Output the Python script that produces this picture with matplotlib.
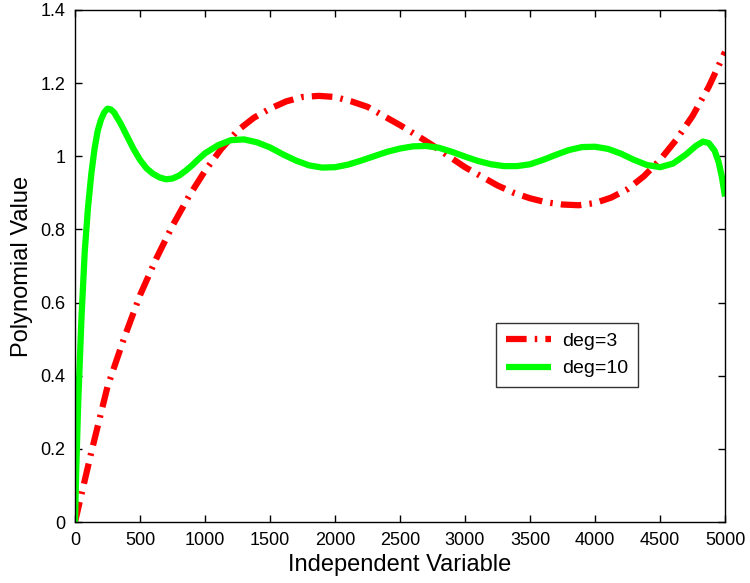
import matplotlib
matplotlib.use("Agg")
import matplotlib.pyplot as plt

plt.rcParams['font.family'] = ['Liberation Sans', 'DejaVu Sans']

# deg=3 fit
x3 = [0, 125, 250, 375, 500, 625, 750, 875, 1000, 1125, 1250, 1375, 1500, 1625,
      1750, 1875, 2000, 2125, 2250, 2375, 2500, 2625, 2750, 2875, 3000, 3125,
      3250, 3375, 3500, 3625, 3750, 3875, 4000, 4125, 4250, 4375, 4500, 4625,
      4750, 4875, 5000]
y3 = [0.00, 0.19, 0.37, 0.50, 0.62, 0.72, 0.81, 0.89, 0.96, 1.02, 1.07, 1.105,
      1.13, 1.15, 1.162, 1.165, 1.162, 1.15, 1.135, 1.11, 1.085, 1.058, 1.03,
      1.0, 0.97, 0.945, 0.92, 0.90, 0.885, 0.874, 0.868, 0.866, 0.872, 0.887,
      0.91, 0.945, 0.99, 1.045, 1.11, 1.19, 1.285]

# deg=10 fit
x10 = [0, 10, 25, 50, 75, 100, 125, 150, 175, 200, 225, 250, 275, 300, 350, 400,
       450, 500, 550, 600, 650, 700, 750, 800, 850, 900, 950, 1000, 1100, 1200,
       1300, 1400, 1500, 1600, 1700, 1800, 1900, 2000, 2100, 2200, 2300, 2400,
       2500, 2600, 2700, 2800, 2900, 3000, 3100, 3200, 3300, 3400, 3500, 3600,
       3700, 3800, 3900, 4000, 4100, 4200, 4300, 4400, 4500, 4600, 4700, 4775,
       4830, 4875, 4920, 4950, 4975, 5000]
y10 = [0.00, 0.15, 0.33, 0.56, 0.74, 0.86, 0.95, 1.02, 1.07, 1.10, 1.12, 1.13,
       1.128, 1.12, 1.09, 1.055, 1.02, 0.99, 0.967, 0.952, 0.942, 0.937, 0.939,
       0.947, 0.96, 0.975, 0.992, 1.008, 1.03, 1.044, 1.046, 1.038, 1.024, 1.005,
       0.988, 0.975, 0.969, 0.97, 0.977, 0.988, 1.0, 1.012, 1.021, 1.027, 1.028,
       1.023, 1.012, 0.999, 0.987, 0.978, 0.973, 0.973, 0.978, 0.99, 1.004,
       1.017, 1.025, 1.026, 1.02, 1.007, 0.99, 0.976, 0.97, 0.98, 1.005, 1.028,
       1.04, 1.036, 1.015, 0.985, 0.945, 0.89]

xticks = [0, 500, 1000, 1500, 2000, 2500, 3000, 3500, 4000, 4500, 5000]
yticks = [0, 0.2, 0.4, 0.6, 0.8, 1, 1.2, 1.4]
ytick_labels = ['0', '0.2', '0.4', '0.6', '0.8', '1', '1.2', '1.4']

fig = plt.figure(figsize=(7.5, 5.83), dpi=100)
ax = fig.add_axes([0.1, 0.1046, 0.8667, 0.8784])

ax.plot(x3, y3, color='red', linewidth=4.5, dashes=(3.3, 1.3, 0.4, 1.3),
        dash_capstyle='butt', dash_joinstyle='round', label='deg=3')
ax.plot(x10, y10, color='#00ff00', linewidth=4.5, solid_capstyle='butt',
        solid_joinstyle='round', label='deg=10')

ax.set_xlim(0, 5000)
ax.set_ylim(0, 1.4)
ax.set_xticks(xticks)
ax.set_xticklabels([str(v) for v in xticks])
ax.set_yticks(yticks)
ax.set_yticklabels(ytick_labels)
ax.tick_params(direction='in', top=True, right=True, length=5, width=1,
               labelsize=13, colors='black')
ax.tick_params(axis='x', pad=7)
ax.tick_params(axis='y', pad=7)
for s in ax.spines.values():
    s.set_linewidth(1)
ax.set_xlabel('Independent Variable', fontsize=17, labelpad=4)
ax.set_ylabel('Polynomial Value', fontsize=17, labelpad=5)

leg = ax.legend(loc='upper left', bbox_to_anchor=(0.648, 0.389), fontsize=14,
                frameon=True, fancybox=False, edgecolor='black',
                handlelength=2.3, borderpad=0.5, labelspacing=0.5,
                handletextpad=0.6, borderaxespad=0)
leg.get_frame().set_linewidth(1)

fig.savefig('out.png', dpi=100)
